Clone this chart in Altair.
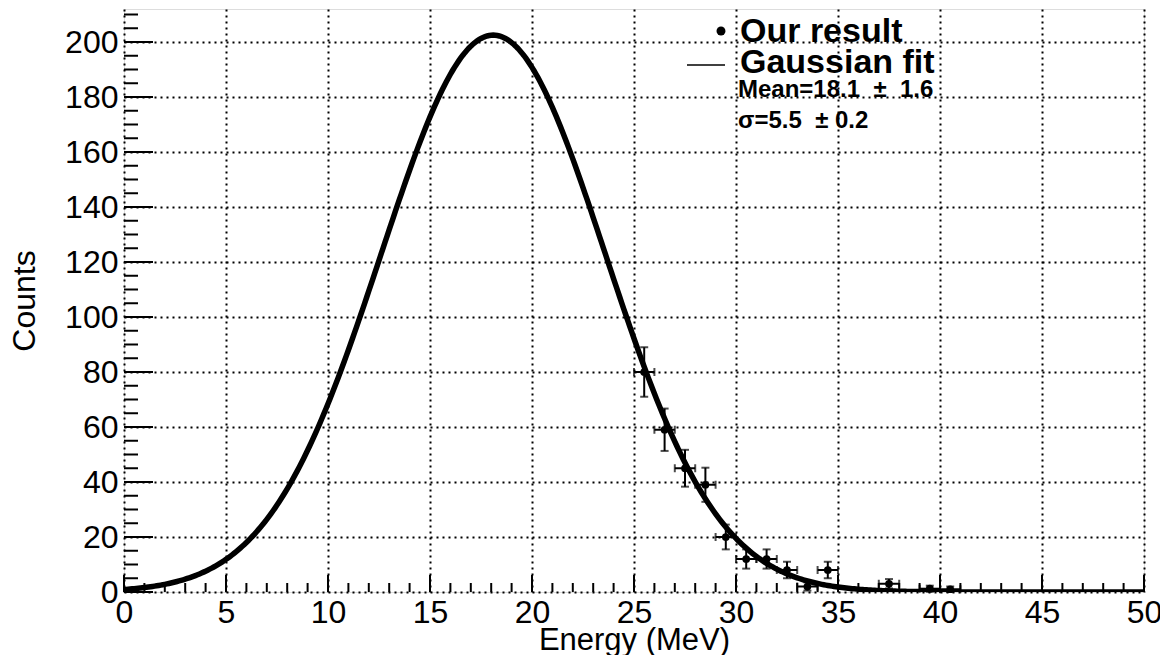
import altair as alt
import numpy as np
import pandas as pd

# ---- data ----
energy = [25.5, 26.5, 27.5, 28.5, 29.5, 30.5, 31.5, 32.5, 33.5, 34.5, 37.5, 39.5, 40.5]
counts = [80, 59, 45, 39, 20, 12, 12, 8, 2, 8, 3, 1.2, 1]
count_err = [9, 7.7, 6.7, 6.2, 4.5, 3.5, 3.5, 3, 1.5, 3, 1.7, 1.1, 1]
energy_err = [0.5] * len(energy)

# Gaussian fit parameters (from the legend)
fit_amplitude = 202.5
fit_mean = 18.1
fit_sigma = 5.5

FONT = "Liberation Sans"
W, H = 1020, 583
NB = "\u00a0"

pts = pd.DataFrame({"x": energy, "y": counts, "ey": count_err, "ex": energy_err})
pts["ylo"] = pts.y - pts.ey
pts["yhi"] = pts.y + pts.ey
pts["xlo"] = pts.x - pts.ex
pts["xhi"] = pts.x + pts.ex

xs = np.linspace(0, 50, 501)
fit = pd.DataFrame({"x": xs, "y": fit_amplitude * np.exp(-((xs - fit_mean) ** 2) / (2 * fit_sigma ** 2))})

xscale = alt.Scale(domain=[0, 50], nice=False, zero=False)
yscale = alt.Scale(domain=[0, 212], nice=False, zero=False)

xaxis = alt.Axis(values=list(range(0, 51, 5)), grid=True, gridDash=[2, 4], gridColor="black",
                 gridWidth=2, gridOpacity=1, ticks=False, domain=False, labelFontSize=32,
                 labelFont=FONT, labelColor="black", labelPadding=5, labelFlush=False,
                 labelOverlap=False, title="Energy (MeV)", titleFont=FONT, titleFontSize=31,
                 titleFontWeight="normal", titleColor="black", titlePadding=-3)
yaxis = alt.Axis(values=list(range(0, 201, 20)), grid=True, gridDash=[2, 4], gridColor="black",
                 gridWidth=2, gridOpacity=1, ticks=False, domain=False, labelFontSize=32,
                 labelFont=FONT, labelColor="black", labelPadding=6, labelFlush=False,
                 labelOverlap=False, title="Counts", titleFont=FONT, titleFontSize=32,
                 titleFontWeight="normal", titleColor="black", titlePadding=23)

base_axes = alt.Chart(fit).mark_line(opacity=0).encode(
    x=alt.X("x:Q", scale=xscale, axis=xaxis),
    y=alt.Y("y:Q", scale=yscale, axis=yaxis),
)

curve = alt.Chart(fit).mark_line(color="black", strokeWidth=5.5, clip=True).encode(
    x=alt.X("x:Q", scale=xscale), y=alt.Y("y:Q", scale=yscale))

vbars = alt.Chart(pts).mark_rule(color="black", strokeWidth=2).encode(
    x="x:Q", y="ylo:Q", y2="yhi:Q")
hbars = alt.Chart(pts).mark_rule(color="black", strokeWidth=2).encode(
    x="xlo:Q", x2="xhi:Q", y="y:Q")
cap_lo = alt.Chart(pts).mark_tick(color="black", orient="horizontal", size=8, thickness=2).encode(
    x="x:Q", y="ylo:Q")
cap_hi = alt.Chart(pts).mark_tick(color="black", orient="horizontal", size=8, thickness=2).encode(
    x="x:Q", y="yhi:Q")
cap_l = alt.Chart(pts).mark_tick(color="black", orient="vertical", size=8, thickness=2).encode(
    x="xlo:Q", y="y:Q")
cap_r = alt.Chart(pts).mark_tick(color="black", orient="vertical", size=8, thickness=2).encode(
    x="xhi:Q", y="y:Q")
dots = alt.Chart(pts).mark_circle(color="black", size=60, opacity=1).encode(x="x:Q", y="y:Q")

# inside tick marks (ROOT style)
xminor = pd.DataFrame({"t": [v for v in range(0, 51) if v % 5]})
xmajor = pd.DataFrame({"t": list(range(0, 51, 5))})
yminor = pd.DataFrame({"t": [v for v in range(0, 213, 5) if v % 20]})
ymajor = pd.DataFrame({"t": list(range(0, 201, 20))})

xt_min = alt.Chart(xminor).mark_rule(color="black", strokeWidth=2).encode(
    x="t:Q", y=alt.value(H), y2=alt.value(H - 9))
xt_maj = alt.Chart(xmajor).mark_rule(color="black", strokeWidth=2).encode(
    x="t:Q", y=alt.value(H), y2=alt.value(H - 17))
yt_min = alt.Chart(yminor).mark_rule(color="black", strokeWidth=2).encode(
    y="t:Q", x=alt.value(0), x2=alt.value(14))
yt_maj = alt.Chart(ymajor).mark_rule(color="black", strokeWidth=2).encode(
    y="t:Q", x=alt.value(0), x2=alt.value(29))

# legend
one = pd.DataFrame({"a": [0]})
leg_dot = alt.Chart(one).mark_circle(color="black", size=80, opacity=1).encode(
    x=alt.value(597), y=alt.value(22))
leg_line = alt.Chart(one).mark_rule(color="black", strokeWidth=1.5).encode(
    x=alt.value(563), x2=alt.value(601), y=alt.value(56))
leg_t1 = alt.Chart(one).mark_text(text="Our result", font=FONT, fontSize=34, fontWeight="bold",
                                  align="left", baseline="alphabetic", color="black").encode(
    x=alt.value(616), y=alt.value(33))
leg_t2 = alt.Chart(one).mark_text(text="Gaussian fit", font=FONT, fontSize=34, fontWeight="bold",
                                  align="left", baseline="alphabetic", color="black").encode(
    x=alt.value(616), y=alt.value(64))
leg_t3 = alt.Chart(one).mark_text(text="Mean=18.1" + NB * 2 + "\u00b1" + NB * 2 + "1.6", font=FONT,
                                  fontSize=24, fontWeight="bold",
                                  align="left", baseline="alphabetic", color="black").encode(
    x=alt.value(614), y=alt.value(88))
leg_t4 = alt.Chart(one).mark_text(text="\u03c3=5.5" + NB * 2 + "\u00b1" + NB + "0.2", font=FONT,
                                  fontSize=24, fontWeight="bold",
                                  align="left", baseline="alphabetic", color="black").encode(
    x=alt.value(614), y=alt.value(119))

chart = alt.layer(
    base_axes, xt_min, xt_maj, yt_min, yt_maj, curve,
    vbars, hbars, cap_lo, cap_hi, cap_l, cap_r, dots,
    leg_dot, leg_line, leg_t1, leg_t2, leg_t3, leg_t4,
).properties(
    width=W, height=H,
    autosize=alt.AutoSizeParams(type="none"),
    padding={"left": 116, "top": 1, "right": 16, "bottom": 63},
).configure_view(
    stroke="black", strokeWidth=2.5, fill="white"
).configure(background="white")

chart.save("out.html", embed_options={"renderer": "svg", "actions": False})
